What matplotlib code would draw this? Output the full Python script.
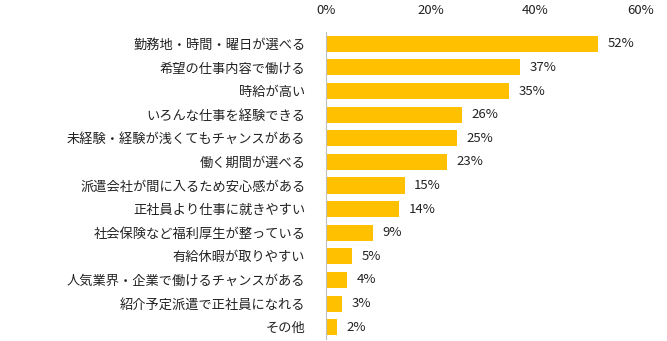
import matplotlib.pyplot as plt
from matplotlib.ticker import FuncFormatter

plt.rcParams['font.family'] = ['Noto Sans CJK JP', 'DejaVu Sans']

# 派遣で働く理由（複数回答）
labels = [
    "勤務地・時間・曜日が選べる",
    "希望の仕事内容で働ける",
    "時給が高い",
    "いろんな仕事を経験できる",
    "未経験・経験が浅くてもチャンスがある",
    "働く期間が選べる",
    "派遣会社が間に入るため安心感がある",
    "正社員より仕事に就きやすい",
    "社会保険など福利厚生が整っている",
    "有給休暇が取りやすい",
    "人気業界・企業で働けるチャンスがある",
    "紹介予定派遣で正社員になれる",
    "その他",
]
values = [52, 37, 35, 26, 25, 23, 15, 14, 9, 5, 4, 3, 2]
ticks = [0, 20, 40, 60]

fig = plt.figure(figsize=(6.67, 3.41), dpi=100)
ax = fig.add_axes([0.489, 0.006, 0.471, 0.9])

pos = list(range(len(values)))
ax.barh(pos, values, height=0.68, color="#FFC000")
for y, v in zip(pos, values):
    ax.text(v + 1.8, y, f"{v}%", va="center", ha="left", fontsize=9.5, color="#222222")

ax.set_ylim(len(values) - 0.5, -0.5)
ax.set_xlim(0, 60)
ax.set_xticks(ticks)
ax.xaxis.set_major_formatter(FuncFormatter(lambda x, p: f"{int(x)}%"))
ax.xaxis.tick_top()
ax.tick_params(axis="x", length=0, pad=11, labelsize=9.5, labelcolor="#222222")
ax.set_yticks(pos)
ax.set_yticklabels(labels)
ax.tick_params(axis="y", length=0, pad=15, labelsize=9.5, labelcolor="#222222")

for side in ["top", "right", "bottom"]:
    ax.spines[side].set_visible(False)
ax.spines["left"].set_color("#BFBFBF")
ax.spines["left"].set_linewidth(0.8)

fig.savefig("out.png", dpi=100)
